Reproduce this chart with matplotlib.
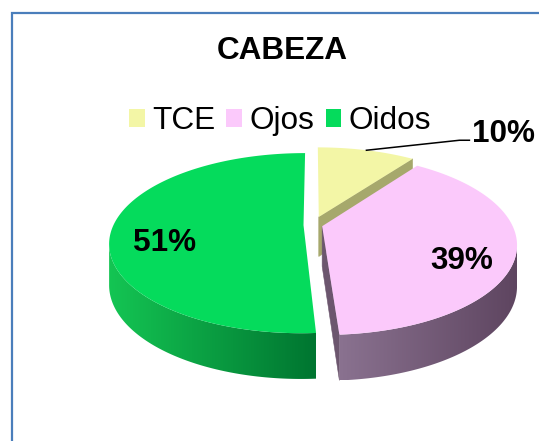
import numpy as np
import matplotlib
matplotlib.use('Agg')
import matplotlib.pyplot as plt
from matplotlib.patches import Polygon, Patch
from matplotlib.colors import to_rgb

plt.rcParams['font.family'] = ['Liberation Sans', 'DejaVu Sans']

# Data
TITLE = 'CABEZA'
labels = ['TCE', 'Ojos', 'Oidos']
values = [10, 39, 51]

# Styles
top_colors = ['#f3f6a6', '#fbc9fb', '#05db5c']
side_light = ['#c8ca84', '#8a7290', '#14c553']
side_dark = ['#a4a66a', '#5e4560', '#007530']
radial_colors = ['#a6a86c', '#6c566e', '#009040']
explode = [0.10, 0.05, 0.05]
FS = 22.7

W, H = 539, 441
CX, CY = 313, 225          # pie centre (pixels)
RX, RY = 190, 86.4         # top ellipse radii
PERSP = 0.2                # perspective strength
DEPTH = 40                 # pie thickness
VIS_LO, VIS_HI = np.radians(101.5), np.radians(258.5)


def project(u, v, z=0.0):
    """u: right, v: back, z: 0 top .. 1 bottom -> pixel coords"""
    s = 1.0 / (1.0 + PERSP * v)
    x = CX + RX * u * s
    y = CY - RY * v * s + z * DEPTH * s ** 0.6
    return x, y


def rim(th, du, dv, z=0.0):
    return project(du + np.sin(th), dv + np.cos(th), z)


fig = plt.figure(figsize=(W / 100, H / 100), dpi=100)
ax = fig.add_axes([0, 0, 1, 1])

# chart frame (only left and top visible)
ax.plot([12, 12, W + 5], [H + 5, 13, 13], color='#4a7ebb', lw=1.6,
        solid_joinstyle='miter', zorder=0)

total = float(sum(values))
starts = np.cumsum([0] + values[:-1]) / total * 2 * np.pi
ends = np.cumsum(values) / total * 2 * np.pi

slices = []
for i in range(len(values)):
    ts, te = starts[i], ends[i]
    mid = (ts + te) / 2
    du, dv = explode[i] * np.sin(mid), explode[i] * np.cos(mid)
    slices.append((dv + 0.5 * np.cos(mid), i, ts, te, mid, du, dv))

# back to front
slices.sort(reverse=True)

z = 1
for _, i, ts, te, mid, du, dv in slices:
    tip_top = project(du, dv, 0)
    tip_bot = project(du, dv, 1)

    # radial faces
    for th, vis in ((ts, np.sin(ts) < -1e-3), (te, np.sin(te) > 1e-3)):
        if vis:
            pts = [tip_top, rim(th, du, dv, 0), rim(th, du, dv, 1), tip_bot]
            ax.add_patch(Polygon(pts, closed=True, fc=radial_colors[i],
                                 ec=radial_colors[i], lw=0.4, zorder=z))
    z += 1

    # outer wall, horizontal gradient clipped to the wall outline
    lo, hi = max(ts, VIS_LO), min(te, VIS_HI)
    if hi > lo:
        th = np.linspace(lo, hi, 120)
        xt, yt = rim(th, du, dv, 0)
        xb, yb = rim(th, du, dv, 1)
        outline = list(zip(xt, yt)) + list(zip(xb[::-1], yb[::-1]))
        wall = Polygon(outline, closed=True, fc='none', ec='none', zorder=z)
        ax.add_patch(wall)
        t = np.linspace(0, 1, 256)[:, None]
        grad = (1 - t) * np.array(to_rgb(side_light[i])) + t * np.array(to_rgb(side_dark[i]))
        x0, x1 = min(xt.min(), xb.min()), max(xt.max(), xb.max())
        y0, y1 = min(yt.min(), yb.min()), max(yt.max(), yb.max())
        im = ax.imshow(grad[None, :, :], extent=(x0, x1, y1, y0),
                       aspect='auto', interpolation='bilinear', zorder=z)
        im.set_clip_path(wall)
    z += 1

    # top face
    th = np.linspace(ts, te, 160)
    xa, ya = rim(th, du, dv, 0)
    pts = [tip_top] + list(zip(xa, ya))
    ax.add_patch(Polygon(pts, closed=True, fc=top_colors[i], ec='none', zorder=z))
    z += 1

ax.set_xlim(0, W)
ax.set_ylim(H, 0)
ax.axis('off')

# percentage labels
for _, i, ts, te, mid, du, dv in slices:
    pct = '%d%%' % round(values[i] / total * 100)
    if values[i] / total >= 0.2:
        x, y = project(du + 0.73 * np.sin(mid), dv + 0.73 * np.cos(mid), 0.4)
        ax.text(x, y, pct, fontsize=FS, fontweight='bold', ha='center',
                va='center', zorder=50)
    else:
        x0, y0 = rim(mid, du, dv, 0)
        x1, y1 = x0 + 93, y0 - 10
        x2 = x1 + 10
        ax.plot([x0, x1, x2], [y0, y1, y1], color='black', lw=1.1, zorder=50)
        ax.text(x2 + 3, y1 - 6, pct, fontsize=FS, fontweight='bold',
                ha='left', va='center', zorder=50)

fig.text(282 / W, 1 - 51 / H, TITLE, fontsize=FS, fontweight='bold',
         ha='center', va='center')

handles = [Patch(facecolor=c, edgecolor='none') for c in top_colors]
fig.legend(handles, labels, loc='center', bbox_to_anchor=(280 / W, 1 - 121 / H),
           ncol=3, frameon=False, fontsize=FS, handlelength=0.5,
           handleheight=0.52, handletextpad=0.23, columnspacing=0.36,
           borderpad=0, borderaxespad=0)

fig.savefig('out.png', dpi=100, facecolor='white')
